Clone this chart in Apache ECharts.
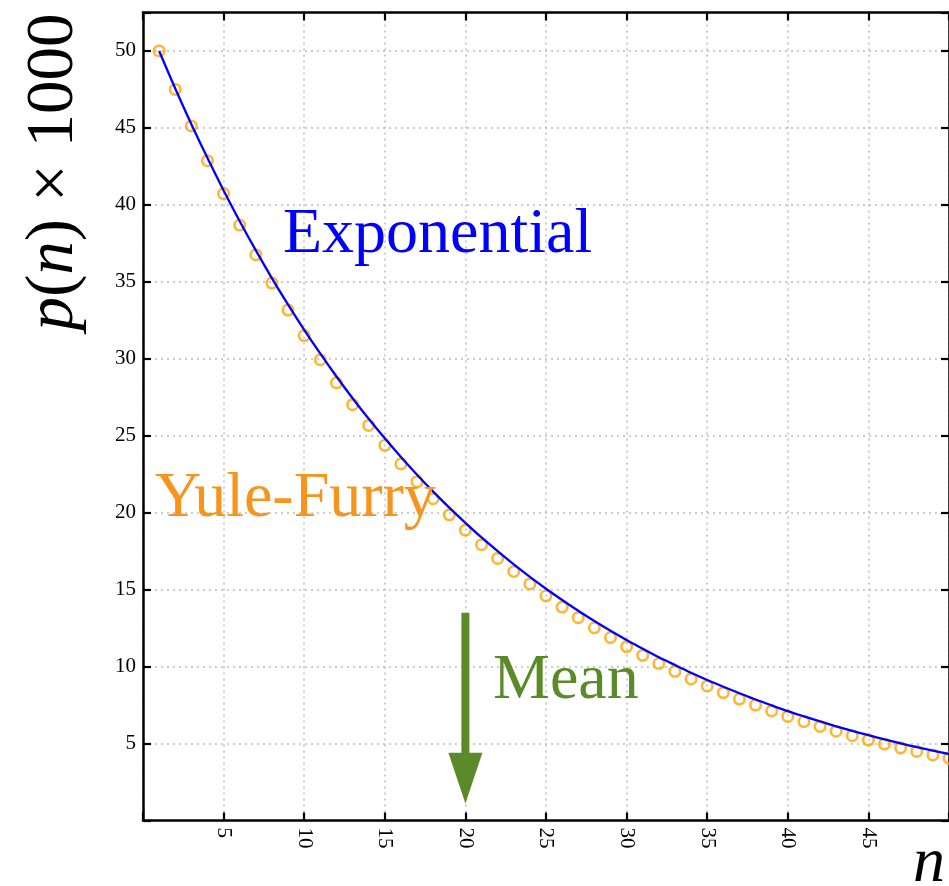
<!DOCTYPE html>
<html>
<head>
<meta charset="utf-8">
<script src="https://cdn.jsdelivr.net/npm/echarts@6/dist/echarts.min.js"></script>
<style>
html,body{margin:0;padding:0;background:#fff;}
#chart{width:949px;height:886px;}
</style>
</head>
<body>
<div id="chart"></div>
<script>
// n values
var nValues = [1,2,3,4,5,6,7,8,9,10,11,12,13,14,15,16,17,18,19,20,21,22,23,24,25,26,27,28,29,30,31,32,33,34,35,36,37,38,39,40,41,42,43,44,45,46,47,48,49,50];
// Yule-Furry p(n) x 1000 (markers)
var yuleFurry = [50.00,47.50,45.13,42.87,40.73,38.69,36.76,34.92,33.17,31.51,29.94,28.44,27.02,25.67,24.38,23.17,22.01,20.91,19.86,18.87,17.92,17.03,16.18,15.37,14.60,13.87,13.18,12.52,11.89,11.30,10.73,10.20,9.69,9.20,8.74,8.31,7.89,7.50,7.12,6.76,6.43,6.11,5.80,5.51,5.23,4.97,4.72,4.49,4.26,4.05];
// Exponential p(n) x 1000 (line)
var exponential = [50.00,47.56,45.24,43.04,40.94,38.94,37.04,35.23,33.52,31.88,30.33,28.85,27.44,26.10,24.83,23.62,22.47,21.37,20.33,19.34,18.39,17.50,16.64,15.83,15.06,14.33,13.63,12.96,12.33,11.73,11.16,10.61,10.10,9.60,9.13,8.69,8.27,7.86,7.48,7.11,6.77,6.44,6.12,5.82,5.54,5.27,5.01,4.77,4.54,4.32];
// Mean arrow: x, top of shaft, start of head, tip
var meanArrow = [20, 13.5, 4.4, 1.1];
// tick labels
var xTickLabels = [5,10,15,20,25,30,35,40,45];
var yTickLabels = [5,10,15,20,25,30,35,40,45,50];

var FONT = '"Liberation Serif", "DejaVu Serif", serif';
var chart = echarts.init(document.getElementById('chart'), null, {renderer:'canvas'});

var gridLine = {show:true, lineStyle:{type:[2,4], color:'#bdbdbd', width:1.5}};
var axisLine = {show:true, onZero:false, lineStyle:{color:'#000', width:2.5}};
var tick = {show:true, inside:true, length:8, lineStyle:{color:'#000', width:2.2}};

var option = {
  animation:false,
  grid:{left:143, top:12.5, right:-2, bottom:65.5, containLabel:false},
  xAxis:[{
    type:'value', min:0, max:50, interval:5, position:'bottom',
    axisLine:axisLine, axisTick:tick, splitLine:gridLine,
    axisLabel:{rotate:-90, margin:7, color:'#000', fontFamily:FONT, fontSize:21,
      formatter:function(v){ return xTickLabels.indexOf(v) >= 0 ? String(v) : ''; }}
  },{
    type:'value', min:0, max:50, interval:5, position:'top',
    axisLine:axisLine, axisTick:tick, splitLine:{show:false}, axisLabel:{show:false}
  }],
  yAxis:[{
    type:'value', min:0, max:52.5, interval:5, position:'left',
    axisLine:axisLine, axisTick:tick, splitLine:gridLine,
    axisLabel:{margin:7, color:'#000', fontFamily:FONT, fontSize:21,
      formatter:function(v){ return yTickLabels.indexOf(v) >= 0 ? String(v) : ''; }}
  },{
    type:'value', min:0, max:52.5, interval:5, position:'right',
    axisLine:axisLine, axisTick:tick, splitLine:{show:false}, axisLabel:{show:false}
  }],
  series:[{
    name:'Yule-Furry', type:'scatter', xAxisIndex:0, yAxisIndex:0,
    symbol:'circle', symbolSize:10.5,
    itemStyle:{color:'rgba(255,255,255,0)', borderColor:'#FFA500', borderWidth:2.6},
    data: nValues.map(function(n,i){ return [n, yuleFurry[i]]; }),
    z:2
  },{
    name:'Exponential', type:'line', xAxisIndex:0, yAxisIndex:0,
    showSymbol:false, smooth:0.3,
    lineStyle:{color:'#0000FF', width:2.3},
    data: nValues.map(function(n,i){ return [n, exponential[i]]; }),
    z:3
  },{
    name:'Mean', type:'custom', xAxisIndex:0, yAxisIndex:0,
    data:[meanArrow],
    encode:{x:0, y:[1,2,3]},
    renderItem:function(params, api){
      var x = api.value(0);
      var top = api.coord([x, api.value(1)]);
      var hs = api.coord([x, api.value(2)]);
      var tip = api.coord([x, api.value(3)]);
      var sw = 8, hw = 34;
      return {type:'group', children:[
        {type:'rect', shape:{x:top[0]-sw/2, y:top[1], width:sw, height:hs[1]-top[1]+1},
          style:{fill:'#5B8A29'}},
        {type:'polygon', shape:{points:[[hs[0]-hw/2, hs[1]],[hs[0]+hw/2, hs[1]],[tip[0], tip[1]]]},
          style:{fill:'#5B8A29'}}
      ]};
    },
    z:4
  }],
  graphic:[
    {type:'text', x:54, y:172, rotation:Math.PI/2, silent:true,
      style:{text:'{i|p}{r|(}{i|n}{r|) × 1000}', align:'center', verticalAlign:'middle',
        rich:{
          i:{fontFamily:FONT, fontStyle:'italic', fontSize:67, fill:'#000'},
          r:{fontFamily:FONT, fontSize:67, fill:'#000'}
        }}},
    {type:'text', x:929, y:864, silent:true,
      style:{text:'n', fontFamily:FONT, fontStyle:'italic', fontSize:64, fill:'#000', align:'center', verticalAlign:'middle'}},
    {type:'text', x:283, y:235, silent:true, z:10,
      style:{text:'Exponential', fontFamily:FONT, fontSize:64, fill:'#0000FF', align:'left', verticalAlign:'middle'}},
    {type:'text', x:155, y:499, silent:true, z:10,
      style:{text:'Yule-Furry', fontFamily:FONT, fontSize:64, fill:'#F7941E', align:'left', verticalAlign:'middle'}},
    {type:'text', x:493, y:681, silent:true, z:10,
      style:{text:'Mean', fontFamily:FONT, fontSize:64, fill:'#5B8A29', align:'left', verticalAlign:'middle'}}
  ]
};
chart.setOption(option);
</script>
</body>
</html>
